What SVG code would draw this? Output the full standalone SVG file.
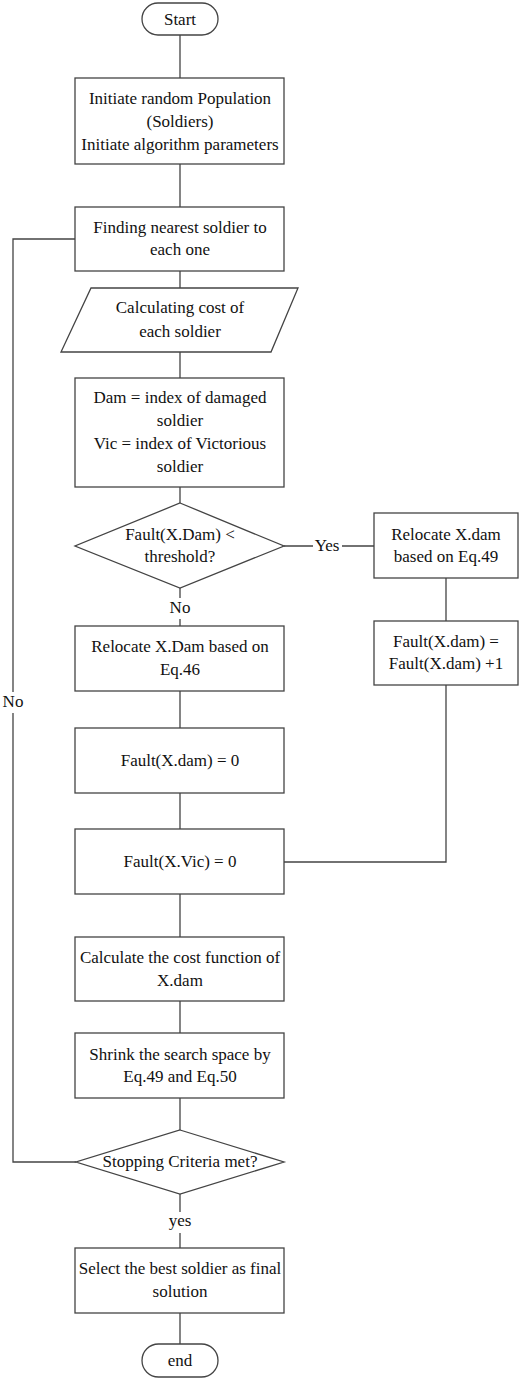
<svg xmlns="http://www.w3.org/2000/svg" width="520" height="1380" viewBox="0 0 520 1380">
<style>
.s{fill:#fff;stroke:#444;stroke-width:1.3}
.c{fill:none;stroke:#444;stroke-width:1.3}
text{font-family:"Liberation Serif","Times New Roman",serif;font-size:17px;fill:#111;text-anchor:middle}
</style>
<rect x="0" y="0" width="520" height="1380" fill="#fff"/>
<g id="connectors">
<path class="c" d="M180,35V78M180,164V207M180,271V288M180,352V378M180,487V503M180,588V598M180,619V626M284,546H313M342,546H374M446,578V621M446,685V862H284M180,691V728M180,793V829M180,894V937M180,1001V1033M180,1098V1130M180,1194V1212M180,1233V1248M180,1313V1344M76,1162H13V713M13,692V239H75"/>
<text x="327" y="551">Yes</text>
<text x="180" y="613">No</text>
<text x="13" y="707">No</text>
<text x="180" y="1226">yes</text>
</g>
<g id="start"><rect class="s" x="142" y="3" width="76" height="32" rx="16"/><text x="180" y="25">Start</text></g>
<g id="init"><rect class="s" x="75" y="78" width="209" height="86"/><text x="180" y="104">Initiate random Population</text><text x="180" y="127">(Soldiers)</text><text x="180" y="150">Initiate algorithm parameters</text></g>
<g id="nearest"><rect class="s" x="75" y="207" width="209" height="64"/><text x="180" y="233">Finding nearest soldier to</text><text x="180" y="255">each one</text></g>
<g id="cost"><polygon class="s" points="91,288 298,288 271,352 61,352"/><text x="180" y="313">Calculating cost of</text><text x="180" y="337">each soldier</text></g>
<g id="index"><rect class="s" x="75" y="378" width="209" height="109"/><text x="180" y="403">Dam = index of damaged</text><text x="180" y="426">soldier</text><text x="180" y="449">Vic = index of Victorious</text><text x="180" y="472">soldier</text></g>
<g id="fault_check"><polygon class="s" points="180,503 284,546 180,588 75,546"/><text x="180" y="540">Fault(X.Dam) &lt;</text><text x="180" y="562">threshold?</text></g>
<g id="relocate49"><rect class="s" x="374" y="513" width="144" height="65"/><text x="446" y="540">Relocate X.dam</text><text x="446" y="562">based on Eq.49</text></g>
<g id="fault_inc"><rect class="s" x="374" y="621" width="144" height="64"/><text x="446" y="647">Fault(X.dam) =</text><text x="446" y="669">Fault(X.dam) +1</text></g>
<g id="relocate46"><rect class="s" x="75" y="626" width="209" height="65"/><text x="180" y="652">Relocate X.Dam based on</text><text x="180" y="675">Eq.46</text></g>
<g id="fault_dam0"><rect class="s" x="75" y="728" width="209" height="65"/><text x="180" y="766">Fault(X.dam) = 0</text></g>
<g id="fault_vic0"><rect class="s" x="75" y="829" width="209" height="65"/><text x="180" y="867">Fault(X.Vic) = 0</text></g>
<g id="calc"><rect class="s" x="75" y="937" width="209" height="64"/><text x="180" y="963">Calculate the cost function of</text><text x="180" y="986">X.dam</text></g>
<g id="shrink"><rect class="s" x="75" y="1033" width="209" height="65"/><text x="180" y="1060">Shrink the search space by</text><text x="180" y="1082">Eq.49 and Eq.50</text></g>
<g id="stop"><polygon class="s" points="180,1130 284,1162 180,1194 76,1162"/><text x="180" y="1167">Stopping Criteria met?</text></g>
<g id="select"><rect class="s" x="75" y="1248" width="209" height="65"/><text x="180" y="1274">Select the best soldier as final</text><text x="180" y="1297">solution</text></g>
<g id="end"><rect class="s" x="142" y="1344" width="76" height="33" rx="16.5"/><text x="180" y="1366">end</text></g>
</svg>
